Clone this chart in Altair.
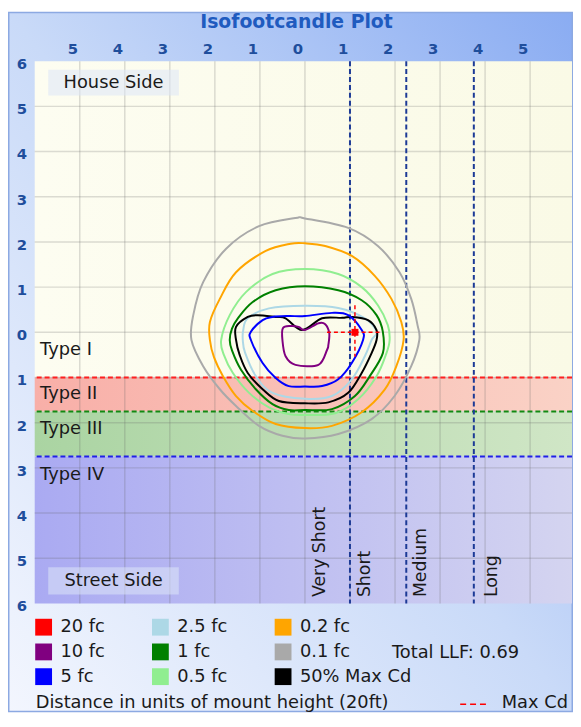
import altair as alt
import pandas as pd

FONT = "DejaVu Sans"
TEXT_COLOR = "#1A1A1A"
AXIS_COLOR = "#1F4E9C"
W, H = 543, 548
PAD_L, PAD_T, PAD_R, PAD_B = 27, 50, 1, 110

# ---------------- axes ----------------
x_tick_values = [-5, -4, -3, -2, -1, 0, 1, 2, 3, 4, 5]
y_tick_values = [-6, -5, -4, -3, -2, -1, 0, 1, 2, 3, 4, 5, 6]
grid_x = [-5, -4, -3, -2, -1, 0, 1, 2, 3, 4, 5]
grid_y = [-5, -4, -3, -2, -1, 0, 1, 2, 3, 4, 5]
x_domain = [-6.0, 5.93]
y_domain = [-6.0, 6.0]
chart_title = "Isofootcandle Plot"

# ---------------- distribution type bands ----------------
band_names = ["Type I", "Type II", "Type III", "Type IV"]
band_top = [6.0, -1.0, -1.75, -2.75]
band_bottom = [-1.0, -1.75, -2.75, -6.0]
band_color_left = ["#FDFDF1", "#F8AFA8", "#AAD4A2", "#AAAAF2"]
band_color_right = ["#FAFAE6", "#FAD2C6", "#D0E6C6", "#D4D4F0"]
band_label_x = -5.88
band_label_y = [-0.39, -1.37, -2.15, -3.16]
boundary_y = [-1.0, -1.75, -2.75]
boundary_color = ["#FF2020", "#128A12", "#2020E8"]

# ---------------- throw zones ----------------
zone_names = ["Very Short", "Short", "Medium", "Long"]
zone_line_x = [1.0, 2.25, 3.75]
zone_label_x = [0.34, 1.33, 2.57, 4.15]
zone_label_y = -5.86

side_names = ["House Side", "Street Side"]
side_label_x = [-4.25, -4.25]
side_label_y = [5.52, -5.51]
side_box_x1 = [-5.70, -5.70]
side_box_x2 = [-2.80, -2.80]
side_box_y1 = [5.81, -5.20]
side_box_y2 = [5.24, -5.80]

# ---------------- isofootcandle contours ----------------
c01_x = [0.00, 0.96, 1.62, 2.10, 2.36, 2.50, 2.54, 2.36, 1.99, 1.48, 0.74, 0.00, -0.50, -1.02, -1.53, -1.89, -2.26, -2.52, -2.48, -2.26, -1.75, -1.02, -0.21]
c01_y = [2.52, 2.31, 1.91, 1.33, 0.74, 0.16, -0.17, -0.75, -1.41, -1.92, -2.25, -2.35, -2.29, -2.07, -1.63, -1.26, -0.75, -0.17, 0.38, 1.11, 1.85, 2.35, 2.53]

c02_x = [0.00, 0.45, 1.04, 1.55, 1.92, 2.14, 2.19, 2.03, 1.77, 1.26, 0.60, 0.00, -0.65, -1.16, -1.53, -1.82, -2.02, -2.11, -2.11, -1.89, -1.53, -0.87, -0.32]
c02_y = [1.97, 1.91, 1.69, 1.25, 0.74, 0.23, -0.17, -0.75, -1.27, -1.77, -2.07, -2.12, -2.03, -1.74, -1.41, -0.97, -0.55, -0.17, 0.23, 0.74, 1.33, 1.80, 1.96]

c05_x = [0.00, 0.74, 1.26, 1.62, 1.84, 1.88, 1.81, 1.59, 1.18, 0.67, 0.00, -0.36, -0.80, -1.24, -1.60, -1.80, -1.86, -1.67, -1.31, -0.72]
c05_y = [1.40, 1.29, 1.00, 0.60, 0.16, -0.17, -0.46, -0.97, -1.48, -1.79, -1.83, -1.81, -1.66, -1.34, -0.90, -0.50, -0.17, 0.38, 0.89, 1.29]

c1_x = [0.00, 0.74, 1.26, 1.59, 1.73, 1.73, 1.44, 1.11, 0.60, 0.00, -0.36, -0.72, -1.09, -1.42, -1.62, -1.67, -1.62, -1.49, -1.16, -0.65]
c1_y = [1.02, 0.93, 0.71, 0.38, 0.01, -0.46, -0.97, -1.41, -1.70, -1.72, -1.72, -1.59, -1.26, -0.83, -0.40, -0.17, 0.08, 0.31, 0.67, 0.93]

c25_x = [0.00, 0.74, 1.33, 1.59, 1.48, 1.33, 1.04, 0.60, 0.00, -0.72, -1.09, -1.33, -1.38, -1.37, -1.27, -0.80]
c25_y = [0.59, 0.54, 0.31, 0.01, -0.17, -0.53, -1.04, -1.41, -1.47, -1.34, -0.97, -0.45, -0.17, 0.05, 0.31, 0.53]

cmax_x = [-0.06, 0.38, 0.82, 1.04, 1.40, 1.59, 1.59, 1.48, 1.26, 0.96, 0.52, 0.00, -0.58, -0.94, -1.27, -1.45, -1.53, -1.53, -1.27, -1.05, -0.65, -0.43]
cmax_y = [0.05, 0.31, 0.32, 0.34, 0.27, 0.05, -0.17, -0.46, -0.90, -1.34, -1.55, -1.57, -1.52, -1.26, -0.90, -0.50, -0.17, 0.12, 0.34, 0.38, 0.34, 0.31]

c5_x = [0.00, 0.60, 0.96, 1.26, 1.29, 1.04, 0.74, 0.38, 0.00, -0.36, -0.65, -0.94, -1.20, -1.20, -0.94, -0.72, -0.36]
c5_y = [0.36, 0.43, 0.38, 0.05, -0.17, -0.68, -1.04, -1.19, -1.20, -1.19, -1.01, -0.68, -0.17, 0.01, 0.27, 0.34, 0.36]

c10_x = [0.00, 0.30, 0.45, 0.54, 0.52, 0.49, 0.30, -0.21, -0.43, -0.50, -0.49, -0.32, -0.14]
c10_y = [0.05, 0.20, 0.18, -0.02, -0.28, -0.39, -0.72, -0.72, -0.53, -0.17, 0.09, 0.14, 0.12]

# max candela point (20 fc spot) and its cross
maxcd_x = [1.11]
maxcd_y = [0.0]
maxcd_h = [0.49, 1.66]
maxcd_v = [0.60, -0.54]

# ---------------- legend ----------------
legend_order = ["20 fc", "10 fc", "5 fc", "2.5 fc", "1 fc", "0.5 fc", "0.2 fc", "0.1 fc", "50% Max Cd"]
legend_colors = ["#FF0000", "#800080", "#0000FF", "#ADD8E6", "#008000", "#90EE90", "#FFA500", "#A9A9A9", "#000000"]
total_llf = 0.69
mount_height_ft = 20

xs = alt.Scale(domain=x_domain, nice=False, zero=False)
ys = alt.Scale(domain=y_domain, nice=False, zero=False)


def X(f):
    return alt.X(f, type="quantitative", scale=xs, axis=None)


def Y(f):
    return alt.Y(f, type="quantitative", scale=ys, axis=None)


def hgrad(c1, c2):
    return alt.LinearGradient(gradient="linear",
                              stops=[alt.GradientStop(color=c1, offset=0),
                                     alt.GradientStop(color=c2, offset=1)],
                              x1=0, x2=1, y1=0, y2=0)


one = pd.DataFrame({"k": [0]})
layers = []

# chart background
bg_grad = alt.LinearGradient(gradient="linear",
                             stops=[alt.GradientStop(color="#8AACF2", offset=0),
                                    alt.GradientStop(color="#C9DAF8", offset=0.5),
                                    alt.GradientStop(color="#F3F6FE", offset=1)],
                             x1=1, y1=0, x2=0, y2=1)
layers.append(alt.Chart(one).mark_rect(color=bg_grad, stroke="#8CA9E2", strokeWidth=1.5).encode(
    x=alt.value(-PAD_L + 0.75), x2=alt.value(W + PAD_R - 0.75),
    y=alt.value(-PAD_T + 0.75), y2=alt.value(H + PAD_B - 0.75)))

# title
layers.append(alt.Chart(pd.DataFrame({"t": [chart_title]})).mark_text(
    font=FONT, fontSize=19, fontWeight="bold", color="#1F5BBF", align="center", baseline="middle").encode(
    x=alt.value(W / 2 - 7), y=alt.value(-40), text="t:N"))

# bands
for i in range(len(band_names)):
    df = pd.DataFrame({"l": [x_domain[0]], "r": [x_domain[1]], "t": [band_top[i]], "b": [band_bottom[i]]})
    layers.append(alt.Chart(df).mark_rect(color=hgrad(band_color_left[i], band_color_right[i])).encode(
        x=X("l"), x2="r", y=Y("t"), y2="b"))

# gridlines
layers.append(alt.Chart(pd.DataFrame({"gx": grid_x})).mark_rule(color="#646464", opacity=0.22, strokeWidth=1.5).encode(
    x=X("gx")))
layers.append(alt.Chart(pd.DataFrame({"gy": grid_y})).mark_rule(color="#646464", opacity=0.22, strokeWidth=1.5).encode(
    y=Y("gy")))

# tick labels (absolute distance, both directions)
xt = pd.DataFrame({"v": x_tick_values, "t": [str(abs(v)) for v in x_tick_values]})
layers.append(alt.Chart(xt).mark_text(font=FONT, fontSize=15, fontWeight="bold", color=AXIS_COLOR,
                                      align="center", baseline="middle", dx=-7).encode(
    x=X("v"), y=alt.value(-12), text="t:N"))
yt = pd.DataFrame({"v": y_tick_values, "t": [str(abs(v)) for v in y_tick_values]})
layers.append(alt.Chart(yt).mark_text(font=FONT, fontSize=15, fontWeight="bold", color=AXIS_COLOR,
                                      align="center", baseline="middle", dy=3).encode(
    x=alt.value(-13), y=Y("v"), text="t:N"))

# house / street side boxes
side_df = pd.DataFrame({"name": side_names, "tx": side_label_x, "ty": side_label_y,
                        "x1": side_box_x1, "x2": side_box_x2, "y1": side_box_y1, "y2": side_box_y2})
layers.append(alt.Chart(side_df).mark_rect(color="#DCE6F8", opacity=0.55).encode(
    x=X("x1"), x2="x2", y=Y("y1"), y2="y2"))
layers.append(alt.Chart(side_df).mark_text(font=FONT, fontSize=18, color=TEXT_COLOR, align="center",
                                           baseline="middle").encode(x=X("tx"), y=Y("ty"), text="name:N"))

# type labels
type_df = pd.DataFrame({"name": band_names, "tx": [band_label_x] * 4, "ty": band_label_y})
layers.append(alt.Chart(type_df).mark_text(font=FONT, fontSize=18, color=TEXT_COLOR, align="left",
                                           baseline="middle").encode(x=X("tx"), y=Y("ty"), text="name:N"))

# band boundaries
for yv, col in zip(boundary_y, boundary_color):
    layers.append(alt.Chart(pd.DataFrame({"by": [yv]})).mark_rule(color=col, strokeDash=[5, 3], strokeWidth=2).encode(
        y=Y("by")))

# zone lines and labels
layers.append(alt.Chart(pd.DataFrame({"zx": zone_line_x})).mark_rule(color="#1C3A96", strokeDash=[5, 3], strokeWidth=2).encode(
    x=X("zx")))
zone_df = pd.DataFrame({"name": zone_names, "tx": zone_label_x, "ty": [zone_label_y] * 4})
layers.append(alt.Chart(zone_df).mark_text(font=FONT, fontSize=17.5, color=TEXT_COLOR, align="left",
                                           baseline="middle", angle=270).encode(x=X("tx"), y=Y("ty"), text="name:N"))

# contours
contours = [
    ("0.1 fc", c01_x, c01_y, "#A9A9A9"),
    ("0.2 fc", c02_x, c02_y, "#FFA500"),
    ("0.5 fc", c05_x, c05_y, "#90EE90"),
    ("1 fc", c1_x, c1_y, "#008000"),
    ("2.5 fc", c25_x, c25_y, "#ADD8E6"),
    ("50% Max Cd", cmax_x, cmax_y, "#000000"),
    ("5 fc", c5_x, c5_y, "#0000FF"),
    ("10 fc", c10_x, c10_y, "#800080"),
]
for name, cx, cy, col in contours:
    df = pd.DataFrame({"x": cx, "y": cy, "i": list(range(len(cx)))})
    layers.append(alt.Chart(df).mark_line(interpolate="cardinal-closed", strokeWidth=2, color=col).encode(
        x=X("x"), y=Y("y"), order="i:Q"))

# max cd cross and spot
layers.append(alt.Chart(pd.DataFrame({"x1": [maxcd_h[0]], "x2": [maxcd_h[1]], "y": maxcd_y})).mark_rule(
    color="#FF0000", strokeDash=[4, 3], strokeWidth=1.5).encode(x=X("x1"), x2="x2", y=Y("y")))
layers.append(alt.Chart(pd.DataFrame({"x": maxcd_x, "y1": [maxcd_v[0]], "y2": [maxcd_v[1]]})).mark_rule(
    color="#FF0000", strokeDash=[4, 3], strokeWidth=1.5).encode(x=X("x"), y=Y("y1"), y2="y2"))
layers.append(alt.Chart(pd.DataFrame({"x": maxcd_x, "y": maxcd_y})).mark_square(
    size=49, color="#FF0000", opacity=1).encode(x=X("x"), y=Y("y")))

# legend (drawn by vega legend from a hidden layer)
layers.append(alt.Chart(pd.DataFrame({"level": legend_order})).mark_square(filled=True, opacity=1).encode(
    x=alt.value(-400), y=alt.value(-400),
    color=alt.Color("level:N", scale=alt.Scale(domain=legend_order, range=legend_colors),
                    legend=alt.Legend(title=None, orient="none", legendX=0, legendY=563, columns=3,
                                      symbolType="square", symbolSize=289, symbolStrokeWidth=0,
                                      symbolOpacity=1, labelFont=FONT, labelFontSize=18,
                                      labelColor=TEXT_COLOR, labelOffset=8, rowPadding=7,
                                      columnPadding=47, padding=0, gridAlign="each"))))

layers.append(alt.Chart(pd.DataFrame({"t": [f"Total LLF: {total_llf:.2f}"]})).mark_text(
    font=FONT, fontSize=18, color=TEXT_COLOR, align="left", baseline="middle").encode(
    x=alt.value(361), y=alt.value(598), text="t:N"))
layers.append(alt.Chart(pd.DataFrame({"t": [f"Distance in units of mount height ({mount_height_ft}ft)"]})).mark_text(
    font=FONT, fontSize=18, color=TEXT_COLOR, align="left", baseline="middle").encode(
    x=alt.value(1), y=alt.value(649), text="t:N"))
layers.append(alt.Chart(one).mark_rule(color="#FF0000", strokeDash=[6, 4], strokeWidth=1.5).encode(
    x=alt.value(430), x2=alt.value(460), y=alt.value(650)))
layers.append(alt.Chart(pd.DataFrame({"t": ["Max Cd"]})).mark_text(
    font=FONT, fontSize=18, color=TEXT_COLOR, align="left", baseline="middle").encode(
    x=alt.value(472), y=alt.value(649), text="t:N"))

chart = alt.layer(*layers).properties(
    width=W, height=H,
    autosize=alt.AutoSizeParams(type="none"),
    padding={"left": PAD_L, "top": PAD_T, "right": PAD_R, "bottom": PAD_B},
).configure_view(stroke=None)

chart.save("out.html", embed_options={"renderer": "svg", "actions": False})
